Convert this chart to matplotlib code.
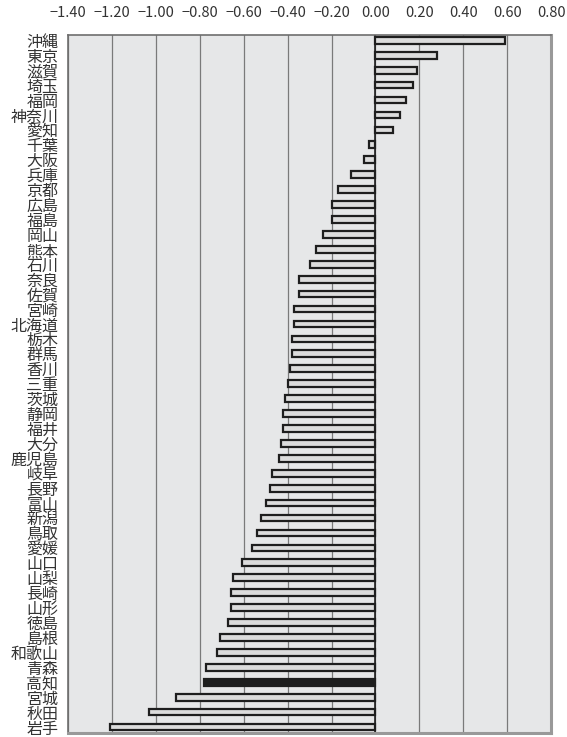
import matplotlib.pyplot as plt
import numpy as np

plt.rcParams['font.family'] = ['Noto Sans CJK JP', 'DejaVu Sans']

# prefectures, top to bottom
prefs = ["沖縄", "東京", "滋賀", "埼玉", "福岡", "神奈川", "愛知", "千葉", "大阪", "兵庫",
         "京都", "広島", "福島", "岡山", "熊本", "石川", "奈良", "佐賀", "宮崎", "北海道",
         "栃木", "群馬", "香川", "三重", "茨城", "静岡", "福井", "大分", "鹿児島", "岐阜",
         "長野", "富山", "新潟", "鳥取", "愛媛", "山口", "山梨", "長崎", "山形", "徳島",
         "島根", "和歌山", "青森", "高知", "宮城", "秋田", "岩手"]
values = [0.59, 0.28, 0.19, 0.17, 0.14, 0.11, 0.08, -0.03, -0.05, -0.11,
          -0.17, -0.20, -0.20, -0.24, -0.27, -0.30, -0.35, -0.35, -0.37, -0.37,
          -0.38, -0.38, -0.39, -0.40, -0.41, -0.42, -0.42, -0.43, -0.44, -0.47,
          -0.48, -0.50, -0.52, -0.54, -0.56, -0.61, -0.65, -0.66, -0.66, -0.67,
          -0.71, -0.72, -0.77, -0.78, -0.91, -1.03, -1.21]
highlight = "高知"
xticks = [-1.40, -1.20, -1.00, -0.80, -0.60, -0.40, -0.20, 0.00, 0.20, 0.40, 0.60, 0.80]

fig = plt.figure(figsize=(5.67, 7.37), dpi=100)
ax = fig.add_axes([0.12, 0.0054, 0.852, 0.947])
ax.set_facecolor('#e6e7e8')

y = np.arange(len(prefs))
colors = ['#1e1e1e' if p == highlight else '#dcdcdc' for p in prefs]
ax.barh(y, values, height=0.45, color=colors, edgecolor='#1e1e1e', linewidth=1.6, zorder=3)

for t in xticks:
    ax.axvline(t, color='#7a7a7a', lw=0.9, zorder=1)
ax.axvline(0, color='#111111', lw=1.1, zorder=2)

ax.set_xlim(-1.40, 0.80)
ax.set_ylim(len(prefs) - 0.6, -0.35)
ax.xaxis.tick_top()
ax.set_xticks(xticks)
ax.set_xticklabels([f"{t:.2f}".replace('-', '\u2212') for t in xticks], fontsize=10.5, color='#333333')
ax.tick_params(axis='x', length=0, pad=11)
ax.set_yticks(y)
ax.set_yticklabels(prefs, fontsize=11.5, color='#333333')
ax.tick_params(axis='y', length=0, pad=7)

for s in ['left', 'top']:
    ax.spines[s].set_color('#6e6e6e')
    ax.spines[s].set_linewidth(1.2)
for s in ['right', 'bottom']:
    ax.spines[s].set_color('#999999')
    ax.spines[s].set_linewidth(2.2)

fig.savefig('out.png', dpi=100)
